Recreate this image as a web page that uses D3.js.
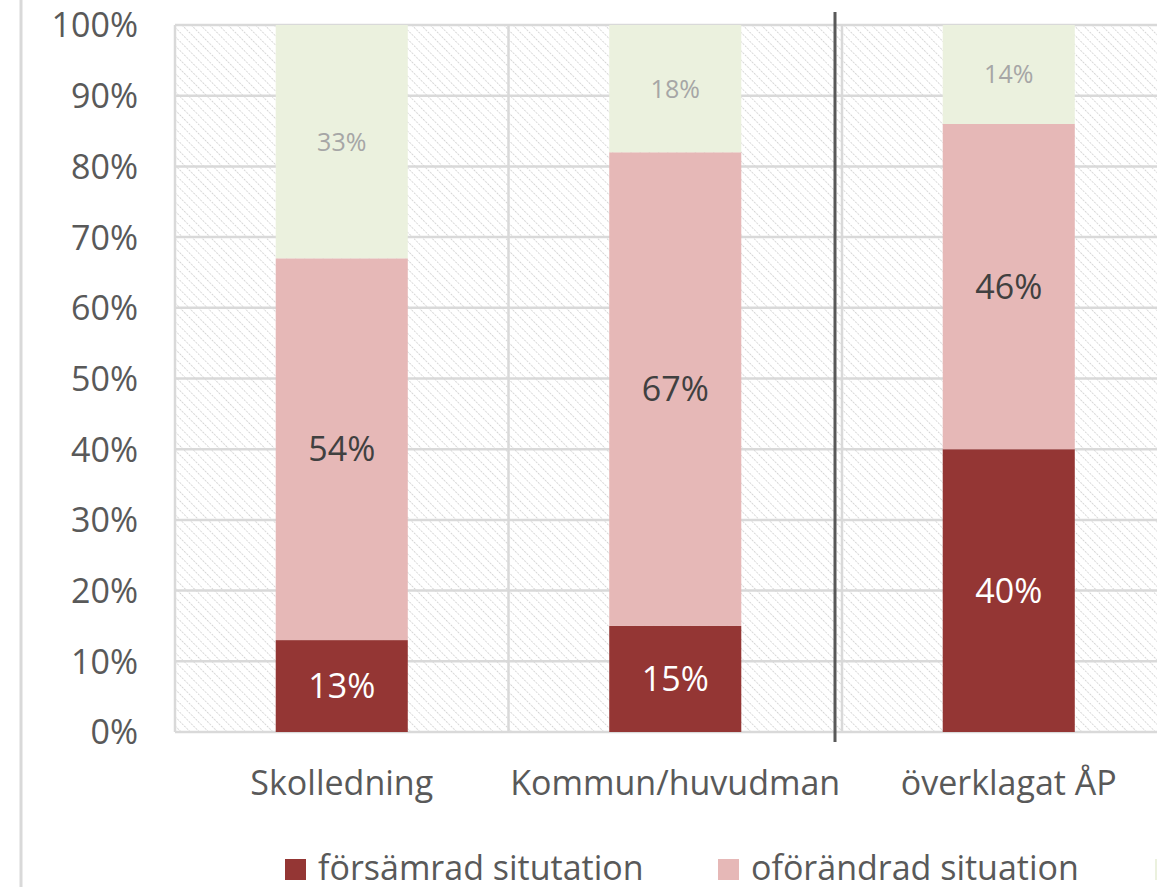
<!DOCTYPE html>
<html>
<head>
<meta charset="utf-8">
<script src="https://cdn.jsdelivr.net/npm/d3@7"></script>
<style>
  html, body { margin: 0; padding: 0; background: #fff; }
  svg { display: block; }
  text { font-family: "Open Sans", sans-serif; }
</style>
</head>
<body>
<div id="chart"></div>
<script>
// ---- data ----
const categories = ["Skolledning", "Kommun/huvudman", "överklagat ÅP"];
const seriesNames = ["försämrad situtation", "oförändrad situation", "förbättrad situation"];
const worse = [13, 15, 40];
const same = [54, 67, 46];
const better = [33, 18, 14];
const yTicks = [0, 10, 20, 30, 40, 50, 60, 70, 80, 90, 100];
const colors = ["#943634", "#e6b8b7", "#ebf1de"];
const labelColors = ["#ffffff", "#404040", "#a6a6a6"];
const labelSizes = [34, 34, 25];

const W = 1171, H = 887;
const svg = d3.select("#chart").append("svg").attr("width", W).attr("height", H);

// clip to visible chart area (the original is cropped at the right)
svg.append("defs").append("clipPath").attr("id", "vis")
  .append("rect").attr("x", 0).attr("y", 0).attr("width", 1157).attr("height", H);

const pat = svg.select("defs").append("pattern")
  .attr("id", "hatch").attr("patternUnits", "userSpaceOnUse")
  .attr("width", 6.5).attr("height", 6.5)
  .attr("patternTransform", "rotate(-45)");
pat.append("rect").attr("width", 6.5).attr("height", 6.5).attr("fill", "#ffffff");
pat.append("line").attr("x1", 0).attr("y1", 0).attr("x2", 0).attr("y2", 6.5)
  .attr("stroke", "#cccccc").attr("stroke-width", 1.5).attr("stroke-dasharray", "2.2,1");

const root = svg.append("g").attr("clip-path", "url(#vis)");

const plot = { left: 175, right: 1175.5, top: 25, bottom: 732 };
const x = d3.scaleBand().domain(categories).range([plot.left, plot.right]).padding(0);
const y = d3.scaleLinear().domain([0, 100]).range([plot.bottom, plot.top]);
const barW = x.bandwidth() * 0.396;

// chart-area left border
root.append("line").attr("x1", 21).attr("x2", 21).attr("y1", 0).attr("y2", H)
  .attr("stroke", "#d9d9d9").attr("stroke-width", 3);

// plot background
root.append("rect").attr("x", plot.left).attr("y", plot.top)
  .attr("width", plot.right - plot.left).attr("height", plot.bottom - plot.top)
  .attr("fill", "url(#hatch)");

// horizontal gridlines
root.append("g").selectAll("line").data(yTicks).join("line")
  .attr("x1", plot.left).attr("x2", plot.right)
  .attr("y1", d => y(d)).attr("y2", d => y(d))
  .attr("stroke", "#d9d9d9").attr("stroke-width", 2.5);

// vertical gridlines at band edges
const edges = categories.map(c => x(c)).concat([plot.right]);
root.append("g").selectAll("line").data(edges).join("line")
  .attr("x1", d => d).attr("x2", d => d)
  .attr("y1", plot.top).attr("y2", plot.bottom)
  .attr("stroke", "#d9d9d9").attr("stroke-width", 2.5);

// y axis labels
const yAxis = d3.axisLeft(y).tickValues(yTicks).tickFormat(d => d + "%").tickSize(0).tickPadding(0);
const ya = root.append("g").attr("transform", `translate(138,0)`).call(yAxis);
ya.select(".domain").remove();
ya.selectAll("text").attr("font-size", 34).attr("fill", "#595959")
  .attr("font-family", "Open Sans, sans-serif").attr("dy", "0.35em");

// x axis labels
const xAxis = d3.axisBottom(x).tickSize(0).tickPadding(0);
const xa = root.append("g").attr("transform", `translate(0,795)`).call(xAxis);
xa.select(".domain").remove();
xa.selectAll("text").attr("font-size", 34).attr("fill", "#595959")
  .attr("font-family", "Open Sans, sans-serif").attr("dy", "0");

// stacked bars
const table = categories.map((c, i) => ({ cat: c, s0: worse[i], s1: same[i], s2: better[i] }));
const stack = d3.stack().keys(["s0", "s1", "s2"])(table);
stack.forEach((layer, li) => {
  const g = root.append("g");
  g.selectAll("rect").data(layer).join("rect")
    .attr("x", d => x(d.data.cat) + x.bandwidth() / 2 - barW / 2)
    .attr("width", barW)
    .attr("y", d => y(d[1]))
    .attr("height", d => y(d[0]) - y(d[1]))
    .attr("fill", colors[li]);
  g.selectAll("text").data(layer).join("text")
    .attr("x", d => x(d.data.cat) + x.bandwidth() / 2)
    .attr("y", d => (y(d[0]) + y(d[1])) / 2)
    .attr("dy", "0.36em")
    .attr("text-anchor", "middle")
    .attr("font-size", labelSizes[li])
    .attr("fill", labelColors[li])
    .text(d => (d[1] - d[0]) + "%");
});

// dark separator line
root.append("line").attr("x1", 835).attr("x2", 835).attr("y1", 12).attr("y2", 742)
  .attr("stroke", "#595959").attr("stroke-width", 3);

// legend
const legX = [285, 718, 1155];
const leg = root.append("g").selectAll("g").data(seriesNames).join("g")
  .attr("transform", (d, i) => `translate(${legX[i]},859)`);
leg.append("rect").attr("width", 21).attr("height", 21).attr("fill", (d, i) => colors[i]);
leg.append("text").attr("x", 33).attr("y", 21).attr("font-size", 34)
  .attr("fill", "#595959").text(d => d);
</script>
</body>
</html>
